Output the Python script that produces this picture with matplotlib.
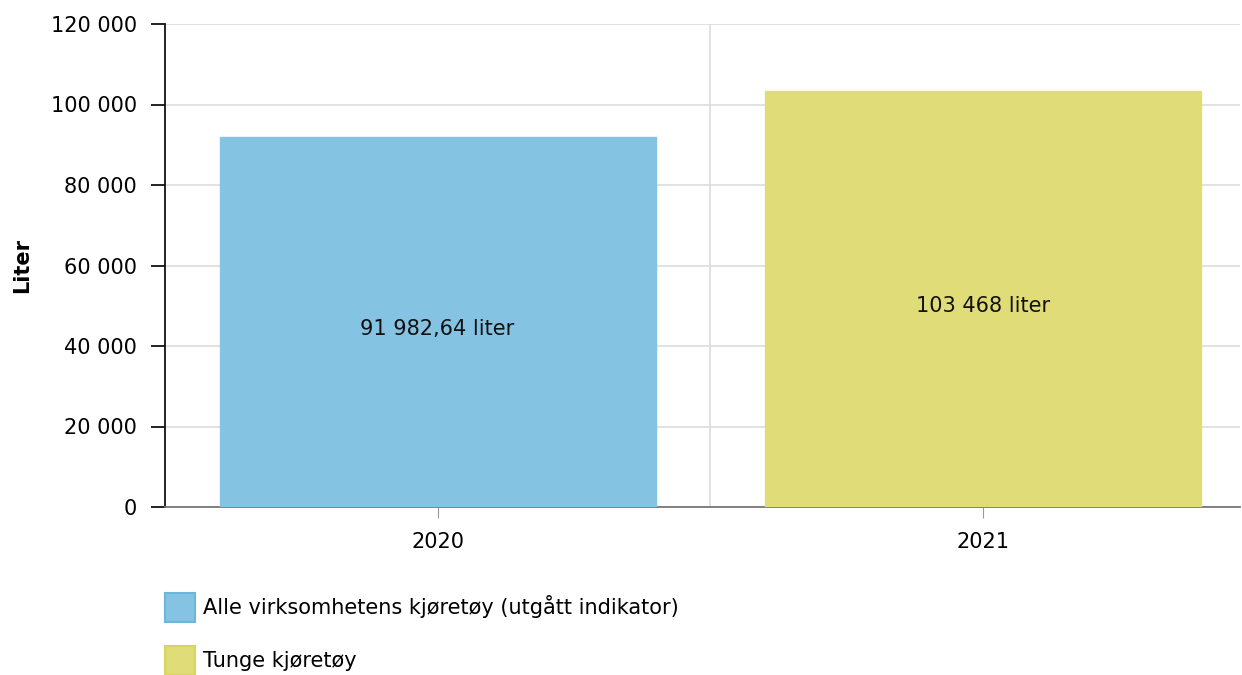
import matplotlib
matplotlib.use('Agg')
import matplotlib.pyplot as plt
from matplotlib.ticker import FuncFormatter, MultipleLocator
from matplotlib.patches import Patch

years = ['2020', '2021']
values = [91982.64, 103468]
series = ['Alle virksomhetens kjøretøy (utgått indikator)', 'Tunge kjøretøy']
fills = ['#85c3e2', '#e0dc77']
edges = ['#6cb6dc', '#d8d45e']

def no_fmt(v, dec=0):
    s = f'{v:,.{dec}f}'
    return s.replace(',', ' ').replace('.', ',')

plt.rcParams['font.family'] = ['DejaVu Sans']
FS = 15
fig = plt.figure(figsize=(12.42, 6.75), dpi=100)
W, H = 1242, 675
ax = fig.add_axes([165 / W, 1 - 507 / H, (1240 - 165) / W, (507 - 24) / H])

x = list(range(len(years)))
for i in x:
    ax.bar(i, values[i], width=0.8, color=fills[i], edgecolor=fills[i], zorder=3)
    dec = 2 if values[i] % 1 else 0
    ax.text(i, values[i] / 2 - 1800, no_fmt(values[i], dec) + ' liter',
            ha='center', va='center', fontsize=FS, color='#111111', zorder=4)

ax.set_xlim(-0.5, 1.472)
ax.set_ylim(0, 120000)
ax.yaxis.set_major_locator(MultipleLocator(20000))
ax.yaxis.set_major_formatter(FuncFormatter(lambda v, p: no_fmt(v)))
ax.set_xticks(x)
ax.set_xticklabels(years)
ax.set_xticks([0.5], minor=True)

ax.grid(axis='y', color='#dddddd', linewidth=1.2, zorder=0)
ax.grid(axis='x', which='minor', color='#dddddd', linewidth=1.2, zorder=0)
ax.tick_params(axis='x', which='minor', length=0)
ax.tick_params(axis='x', which='major', length=8, color='#999999', labelsize=FS, pad=10)
ax.tick_params(axis='y', length=10, width=1.3, color='#111111', labelsize=FS, pad=10)

for s in ['top', 'right']:
    ax.spines[s].set_visible(False)
ax.spines['left'].set_color('#111111')
ax.spines['left'].set_linewidth(1.3)
ax.spines['bottom'].set_color('#777777')
ax.spines['bottom'].set_linewidth(1.3)

ax.set_ylabel('Liter', fontsize=FS, fontweight='bold')
ax.yaxis.set_label_coords((32 - 165) / (1240 - 165), 0.5)

handles = [Patch(facecolor=fills[i], edgecolor=edges[i], linewidth=1.5) for i in range(2)]
fig.legend(handles, series, loc='upper left', bbox_to_anchor=(165 / W, 1 - 593 / H),
           frameon=False, fontsize=FS, handlelength=1.45, handleheight=1.75,
           handletextpad=0.38, labelspacing=1.15, borderaxespad=0, borderpad=0)

fig.savefig('out.png', dpi=100)
